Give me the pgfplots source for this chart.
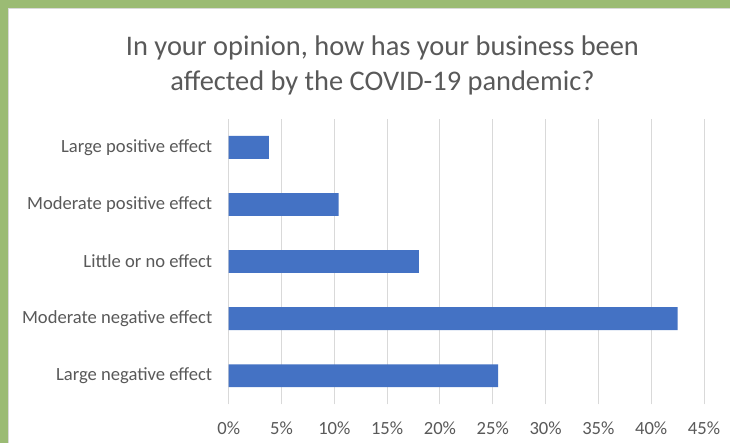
\documentclass[border=0pt]{standalone}
\usepackage{fontspec}
\setmainfont{Carlito}
\usepackage{pgfplots}
\pgfplotsset{compat=1.18}

\definecolor{barblue}{HTML}{4472C4}
\definecolor{txtgrey}{HTML}{595959}
\definecolor{gridgrey}{HTML}{D9D9D9}
\definecolor{frame}{HTML}{9BBB74}

\begin{document}
\begin{tikzpicture}[x=1bp,y=1bp]
  % page and the cropped slide frame
  \path[use as bounding box,fill=white] (0,0) rectangle (730,443);
  \fill[frame] (0,0) rectangle (7.5,443);
  \fill[frame] (0,435) rectangle (730,443);
  \draw[gridgrey,line width=0.8bp] (8,0) -- (8,434.5) -- (730,434.5);

  % title
  \node[anchor=base,text=txtgrey,font=\fontsize{28.4bp}{34bp}\selectfont,inner sep=0]
    at (382.5,387.5) {In your opinion, how has your business been};
  \node[anchor=base,text=txtgrey,font=\fontsize{28.4bp}{34bp}\selectfont,inner sep=0]
    at (382.5,352) {affected by the COVID-19 pandemic?};

  \begin{axis}[
    at={(228.7bp,38.7bp)}, anchor=south west,
    scale only axis,
    width=475.3bp, height=285.5bp,
    xmin=0, xmax=45,
    ymin=-0.5, ymax=4.5,
    xtick={0,5,...,45},
    xticklabels={0\%,5\%,10\%,15\%,20\%,25\%,30\%,35\%,40\%,45\%},
    ytick={0,1,2,3,4},
    yticklabels={Large negative effect,Moderate negative effect,Little or no effect,Moderate positive effect,Large positive effect},
    xmajorgrids=true,
    grid style={gridgrey,line width=1bp},
    axis line style={draw=none},
    major tick length=0pt,
    tick label style={text=txtgrey,font=\fontsize{18.6bp}{22bp}\selectfont},
    xticklabel style={yshift=-14bp},
    yticklabel style={xshift=-13bp},
    xbar, bar width=0.4,
  ]
    \addplot[fill=barblue,draw=none] coordinates {
      (25.5,0) (42.5,1) (18.0,2) (10.4,3) (3.8,4)
    };
  \end{axis}
\end{tikzpicture}
\end{document}
